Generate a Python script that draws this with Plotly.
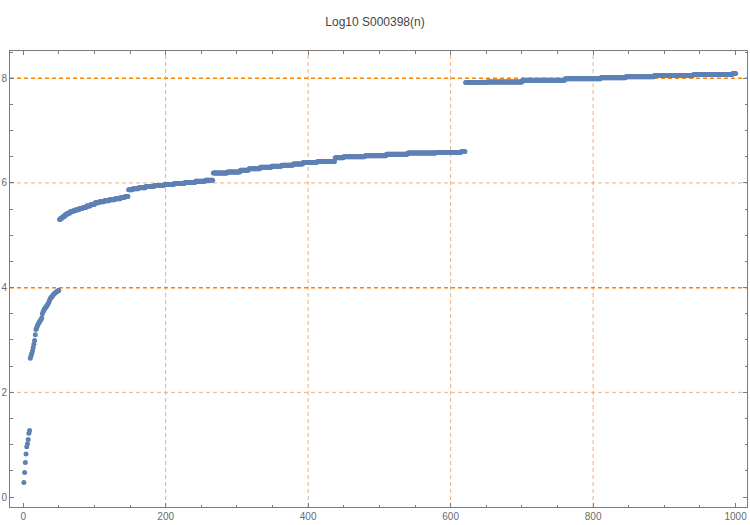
import numpy as np
import plotly.graph_objects as go

# ---- data (log10 of S000398(n), n = 1..1000) ----
# first 50 terms, read point by point
early_values = [0.28, 0.47, 0.66, 0.82, 0.96, 1.02, 1.10, 1.22, 1.27,
                2.65, 2.70, 2.74, 2.79, 2.85, 2.92, 2.99, 3.10, 3.20, 3.24,
                3.27, 3.30, 3.33, 3.35, 3.37, 3.39, 3.42, 3.50, 3.54, 3.57,
                3.59, 3.61, 3.63, 3.65, 3.67, 3.69, 3.72, 3.76, 3.79, 3.81,
                3.82, 3.84, 3.86, 3.88, 3.89, 3.90, 3.91, 3.92, 3.93, 3.94, 3.95]

# remaining terms (n = 51..1000) read as plateaus: value and number of terms
run_values = [5.30, 5.33, 5.36, 5.39, 5.42, 5.45, 5.47, 5.49, 5.51, 5.53, 5.56, 5.59,
              5.62, 5.64, 5.66, 5.68, 5.70, 5.72, 5.74,
              5.87, 5.89, 5.91, 5.93, 5.95, 5.97, 5.99, 6.01, 6.03, 6.05,
              6.19, 6.21, 6.24, 6.27, 6.30, 6.32, 6.34, 6.36, 6.39, 6.41,
              6.48, 6.50, 6.52, 6.55, 6.57, 6.58, 6.60,
              7.92, 7.93, 7.96, 7.99, 8.01, 8.03, 8.05, 8.07, 8.09]
run_counts = [2, 3, 3, 3, 4, 4, 4, 5, 5, 5, 6, 6,
              6, 7, 7, 8, 8, 6, 5,
              6, 8, 10, 12, 14, 14, 15, 15, 14, 11,
              20, 18, 12, 16, 16, 14, 16, 14, 20, 25,
              12, 30, 30, 30, 40, 35, 6,
              30, 50, 60, 50, 35, 40, 55, 55, 5]

x_tick_vals = [0, 200, 400, 600, 800, 1000]
y_tick_vals = [0, 2, 4, 6, 8]
x_grid = [200, 400, 600, 800]
y_grid_light = [2, 6]
y_grid_strong = [4, 8]

title_text = "Log10 S000398(n)"

# ---- build series ----
y = list(early_values)
for v, c in zip(run_values, run_counts):
    y.extend([v] * c)
n = list(range(1, len(y) + 1))

fig = go.Figure()
fig.add_trace(go.Scatter(
    x=n, y=y, mode="markers",
    marker=dict(color="#5E81B5", size=5, line=dict(width=0)),
    showlegend=False, hoverinfo="x+y",
))

light = "rgba(225,150,90,0.75)"
strong = "rgb(255,128,0)"
for gx in x_grid:
    fig.add_shape(type="line", xref="x", yref="paper", x0=gx, x1=gx, y0=0, y1=1,
                  line=dict(color=light, width=1, dash="4px,3px"), layer="below")
for gy in y_grid_light:
    fig.add_shape(type="line", xref="paper", yref="y", x0=0, x1=1, y0=gy, y1=gy,
                  line=dict(color=light, width=1, dash="4px,3px"), layer="below")
for gy in y_grid_strong:
    fig.add_shape(type="line", xref="paper", yref="y", x0=0, x1=1, y0=gy, y1=gy,
                  line=dict(color=strong, width=1.5, dash="4px,3px"), layer="below")

axis_col = "#7a7a7a"
font_col = "#6a6a6a"
common = dict(showgrid=False, zeroline=False, showline=True, linecolor=axis_col,
              linewidth=1, mirror="ticks", ticks="inside", ticklen=4, tickwidth=1,
              tickcolor=axis_col, automargin=False,
              tickfont=dict(family="Liberation Sans, Arial", size=10, color=font_col))

fig.update_xaxes(range=[-18.5, 1016], tickmode="array", tickvals=x_tick_vals,
                 minor=dict(dtick=50, tick0=0, ticks="inside", ticklen=2.5,
                            tickcolor=axis_col, showgrid=False),
                 **common)
fig.update_yaxes(range=[-0.19, 8.52], tickmode="array", tickvals=y_tick_vals,
                 minor=dict(dtick=0.5, tick0=0, ticks="inside", ticklen=2.5,
                            tickcolor=axis_col, showgrid=False),
                 **common)

fig.update_layout(
    template="none",
    width=750, height=525,
    margin=dict(l=10, r=3, t=51, b=18),
    paper_bgcolor="white", plot_bgcolor="white",
    title=dict(text=title_text, x=0.5, xanchor="center", y=1 - 22 / 525,
               yanchor="middle",
               font=dict(family="Liberation Sans, Arial", size=12, color="#444444")),
    showlegend=False,
)

# remove the browser's default page margin so the figure starts at the corner
fig.write_html("out.html",
               config={"displayModeBar": False},
               post_script="document.body.style.margin='0';document.body.style.overflow='hidden';")
